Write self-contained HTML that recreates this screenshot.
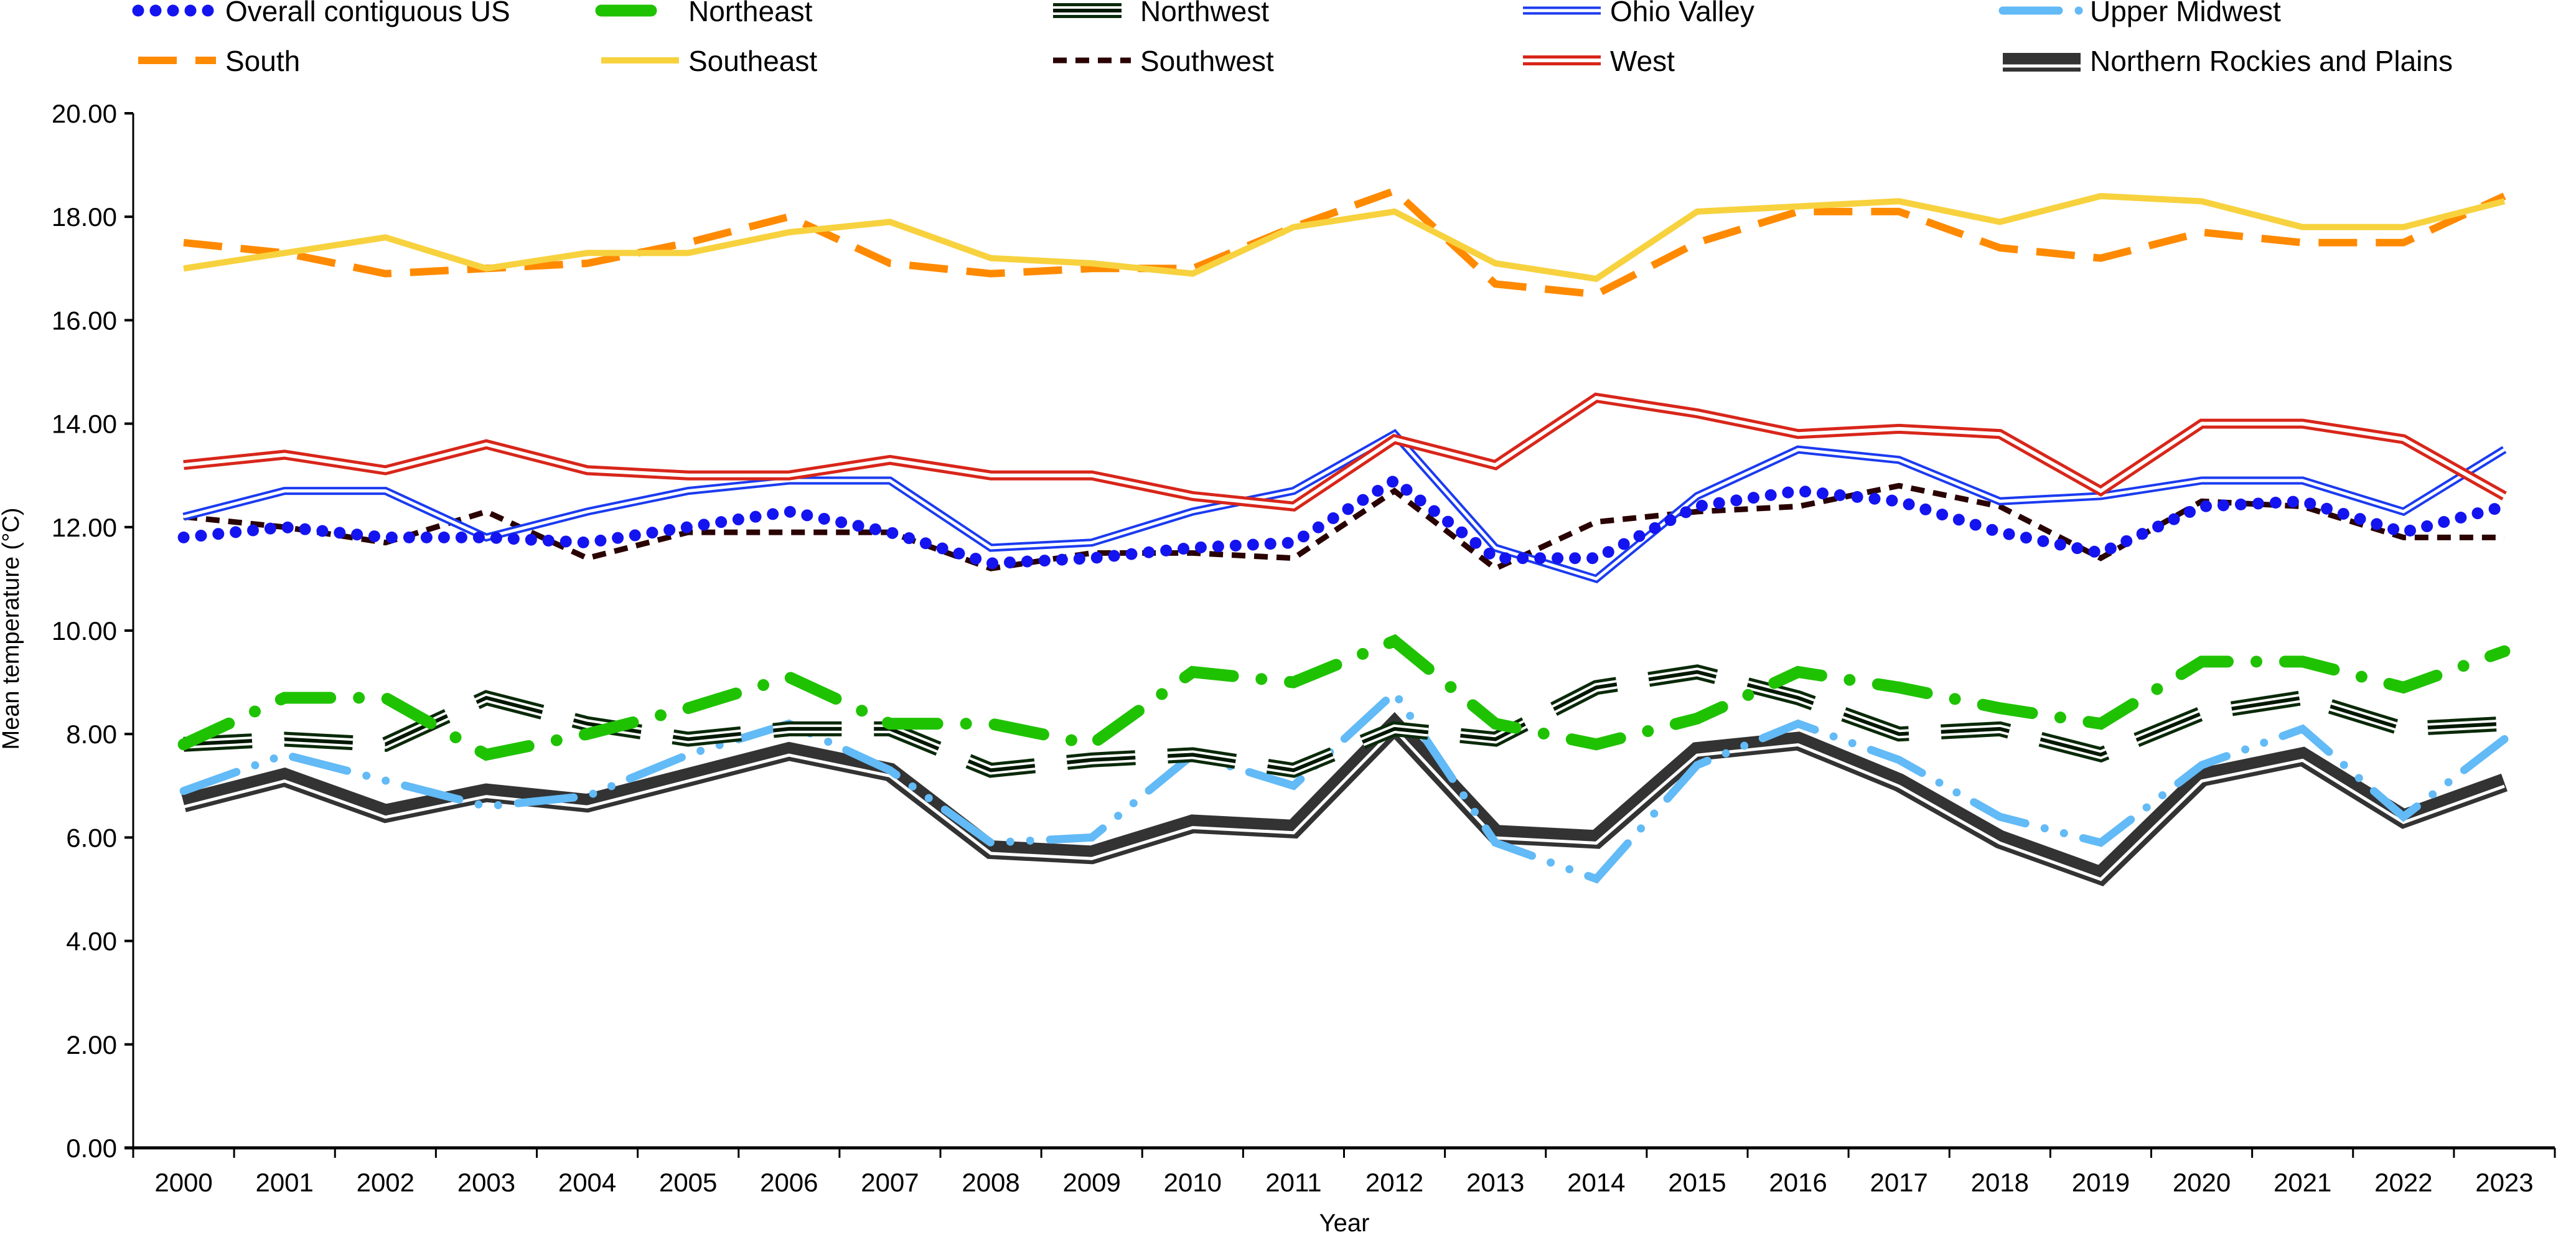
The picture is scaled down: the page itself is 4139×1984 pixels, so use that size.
<!DOCTYPE html>
<html><head><meta charset="utf-8"><style>
html,body{margin:0;padding:0;background:#fff;}
svg{display:block;font-family:"Liberation Sans",Arial,sans-serif;}
</style></head><body>
<svg id="chart" width="4139" height="1984" viewBox="0 0 4139 1984" xmlns="http://www.w3.org/2000/svg">
<g id="legend"></g>
<g id="axes"></g>
<g id="series"></g>
<text transform="translate(30,1010) rotate(-90)" text-anchor="middle" font-size="38">Mean temperature (°C)</text>
<text x="2160" y="1978" text-anchor="middle" font-size="40">Year</text>
</svg>
<script>
const years = [2000,2001,2002,2003,2004,2005,2006,2007,2008,2009,2010,2011,2012,2013,2014,2015,2016,2017,2018,2019,2020,2021,2022,2023];
const yTicks = [0,2,4,6,8,10,12,14,16,18,20];
const overallUS = [11.8,12.0,11.8,11.8,11.7,12.0,12.3,11.9,11.3,11.4,11.6,11.7,12.9,11.4,11.4,12.4,12.7,12.5,11.9,11.5,12.4,12.5,11.9,12.4];
const northeast = [7.8,8.7,8.7,7.6,8.0,8.5,9.1,8.2,8.2,7.8,9.2,9.0,9.8,8.2,7.8,8.3,9.2,8.9,8.5,8.2,9.4,9.4,8.9,9.6];
const northwest = [7.8,7.9,7.8,8.7,8.2,7.9,8.1,8.1,7.3,7.5,7.6,7.3,8.1,7.9,8.9,9.2,8.7,8.0,8.1,7.6,8.4,8.7,8.1,8.2];
const ohioValley = [12.2,12.7,12.7,11.8,12.3,12.7,12.9,12.9,11.6,11.7,12.3,12.7,13.8,11.6,11.0,12.6,13.5,13.3,12.5,12.6,12.9,12.9,12.3,13.5];
const upperMidwest = [6.9,7.6,7.1,6.6,6.8,7.6,8.2,7.3,5.9,6.0,7.6,7.0,8.8,5.9,5.2,7.4,8.2,7.5,6.4,5.9,7.4,8.1,6.4,7.9];
const south = [17.5,17.3,16.9,17.0,17.1,17.5,18.0,17.1,16.9,17.0,17.0,17.8,18.5,16.7,16.5,17.5,18.1,18.1,17.4,17.2,17.7,17.5,17.5,18.4];
const southeast = [17.0,17.3,17.6,17.0,17.3,17.3,17.7,17.9,17.2,17.1,16.9,17.8,18.1,17.1,16.8,18.1,18.2,18.3,17.9,18.4,18.3,17.8,17.8,18.3];
const southwest = [12.2,12.0,11.7,12.3,11.4,11.9,11.9,11.9,11.2,11.5,11.5,11.4,12.7,11.2,12.1,12.3,12.4,12.8,12.4,11.4,12.5,12.4,11.8,11.8];
const west = [13.2,13.4,13.1,13.6,13.1,13.0,13.0,13.3,13.0,13.0,12.6,12.4,13.7,13.2,14.5,14.2,13.8,13.9,13.8,12.7,14.0,14.0,13.7,12.6];
const northernRockies = [6.7,7.2,6.5,6.9,6.7,7.2,7.7,7.3,5.8,5.7,6.3,6.2,8.2,6.1,6.0,7.7,7.9,7.1,6.0,5.3,7.2,7.6,6.4,7.1];

const NS="http://www.w3.org/2000/svg";
const X0=214, X1=4105, Y0=1844, Y20=182;
const step=(X1-X0)/years.length;
function xPos(i){return X0+step*(i+0.5);}
function yPos(v){return Y0-(Y0-Y20)*v/20;}
function mk(tag,attrs,parent){const e=document.createElementNS(NS,tag);for(const k in attrs)e.setAttribute(k,attrs[k]);parent.appendChild(e);return e;}

const axes=document.getElementById('axes');
let e=mk('line',{x1:X0,y1:Y20,x2:X0,y2:Y0,stroke:'#000','stroke-width':3},axes);


e=mk('line',{x1:X0-14,y1:Y0,x2:X1,y2:Y0,stroke:'#000','stroke-width':5},axes);


yTicks.forEach(v=>{
  const t=mk('line',{x1:X0-14,y1:yPos(v),x2:X0,y2:yPos(v),stroke:'#000','stroke-width':4},axes);
  
  
  const l=mk('text',{x:X0-26,y:yPos(v)+15,'text-anchor':'end','font-size':42},axes);
  l.textContent=v.toFixed(2);
  
  
});
for(let i=0;i<=years.length;i++){
  const x=X0+step*i;
  const t=mk('line',{x1:x,y1:Y0,x2:x,y2:Y0+16,stroke:'#000','stroke-width':3},axes);
  
  
}
years.forEach((y,i)=>{
  const l=mk('text',{x:xPos(i),y:Y0+70,'text-anchor':'middle','font-size':42},axes);
  l.textContent=y;
  
  
});

const seriesDefs=[
 {name:'Northern Rockies and Plains',data:northernRockies,layers:[{c:'#333',w:30,dy:3},{c:'#fff',w:5,dy:9}]},
 {name:'Upper Midwest',data:upperMidwest,layers:[{c:'#62baf6',w:13,dash:'90 32 0 32 0 32',cap:'round'}]},
 {name:'Northwest',data:northwest,layers:[{c:'#0a2a0a',w:24,dash:'110 52'},{c:'#fff',w:14,dash:'110 52'},{c:'#001800',w:6,dash:'110 52'}]},
 {name:'Northeast',data:northeast,layers:[{c:'#1fc200',w:19,dash:'80 46 0 46',cap:'round'}]},
 {name:'Southwest',data:southwest,layers:[{c:'#2a0202',w:9,dash:'22 14'}]},
 {name:'Ohio Valley',data:ohioValley,layers:[{c:'#1b3bf0',w:13},{c:'#fff',w:5}]},
 {name:'West',data:west,layers:[{c:'#d8261a',w:16},{c:'#fff',w:6}]},
 {name:'Overall contiguous US',data:overallUS,layers:[{c:'#1414f0',w:19,dash:'0 28',cap:'round'}]},
 {name:'South',data:south,layers:[{c:'#ff8a00',w:12,dash:'62 30'}]},
 {name:'Southeast',data:southeast,layers:[{c:'#f7d23e',w:10}]}
];
const sg=document.getElementById('series');
seriesDefs.forEach(s=>{
  const g=mk('g',{},sg);
  
  
  s.layers.forEach(L=>{
    const d=s.data.map((v,i)=>(i?'L':'M')+xPos(i).toFixed(1)+','+(yPos(v)+(L.dy||0)).toFixed(1)).join(' ');
    const p=mk('path',{d:d,fill:'none',stroke:L.c,'stroke-width':L.w,'stroke-linejoin':'miter','stroke-linecap':L.cap||'butt'},g);
    if(L.dash)p.setAttribute('stroke-dasharray',L.dash);
    
    
  });
});

const leg=document.getElementById('legend');
const legendOrder=['Overall contiguous US','Northeast','Northwest','Ohio Valley','Upper Midwest','South','Southeast','Southwest','West','Northern Rockies and Plains'];
const colX=[222,966,1692,2447,3218];
const rowY=[20,100];
legendOrder.forEach((n,k)=>{
  const s=seriesDefs.find(d=>d.name===n);
  const cx=colX[k%5], cy=rowY[Math.floor(k/5)];
  const g=mk('g',{},leg);
  
  
  s.layers.forEach(L=>{
    const p=mk('line',{x1:cx,y1:cy+(L.dy||0)-3,x2:cx+125,y2:cy+(L.dy||0)-3,stroke:L.c,'stroke-width':L.w,'stroke-linecap':L.cap||'butt'},g);
    if(L.dash)p.setAttribute('stroke-dasharray',L.dash);
  });
  const t=mk('text',{x:cx+140,y:cy+14,'font-size':46},g);
  t.textContent=n;
  
  
});
</script>
</body></html>
